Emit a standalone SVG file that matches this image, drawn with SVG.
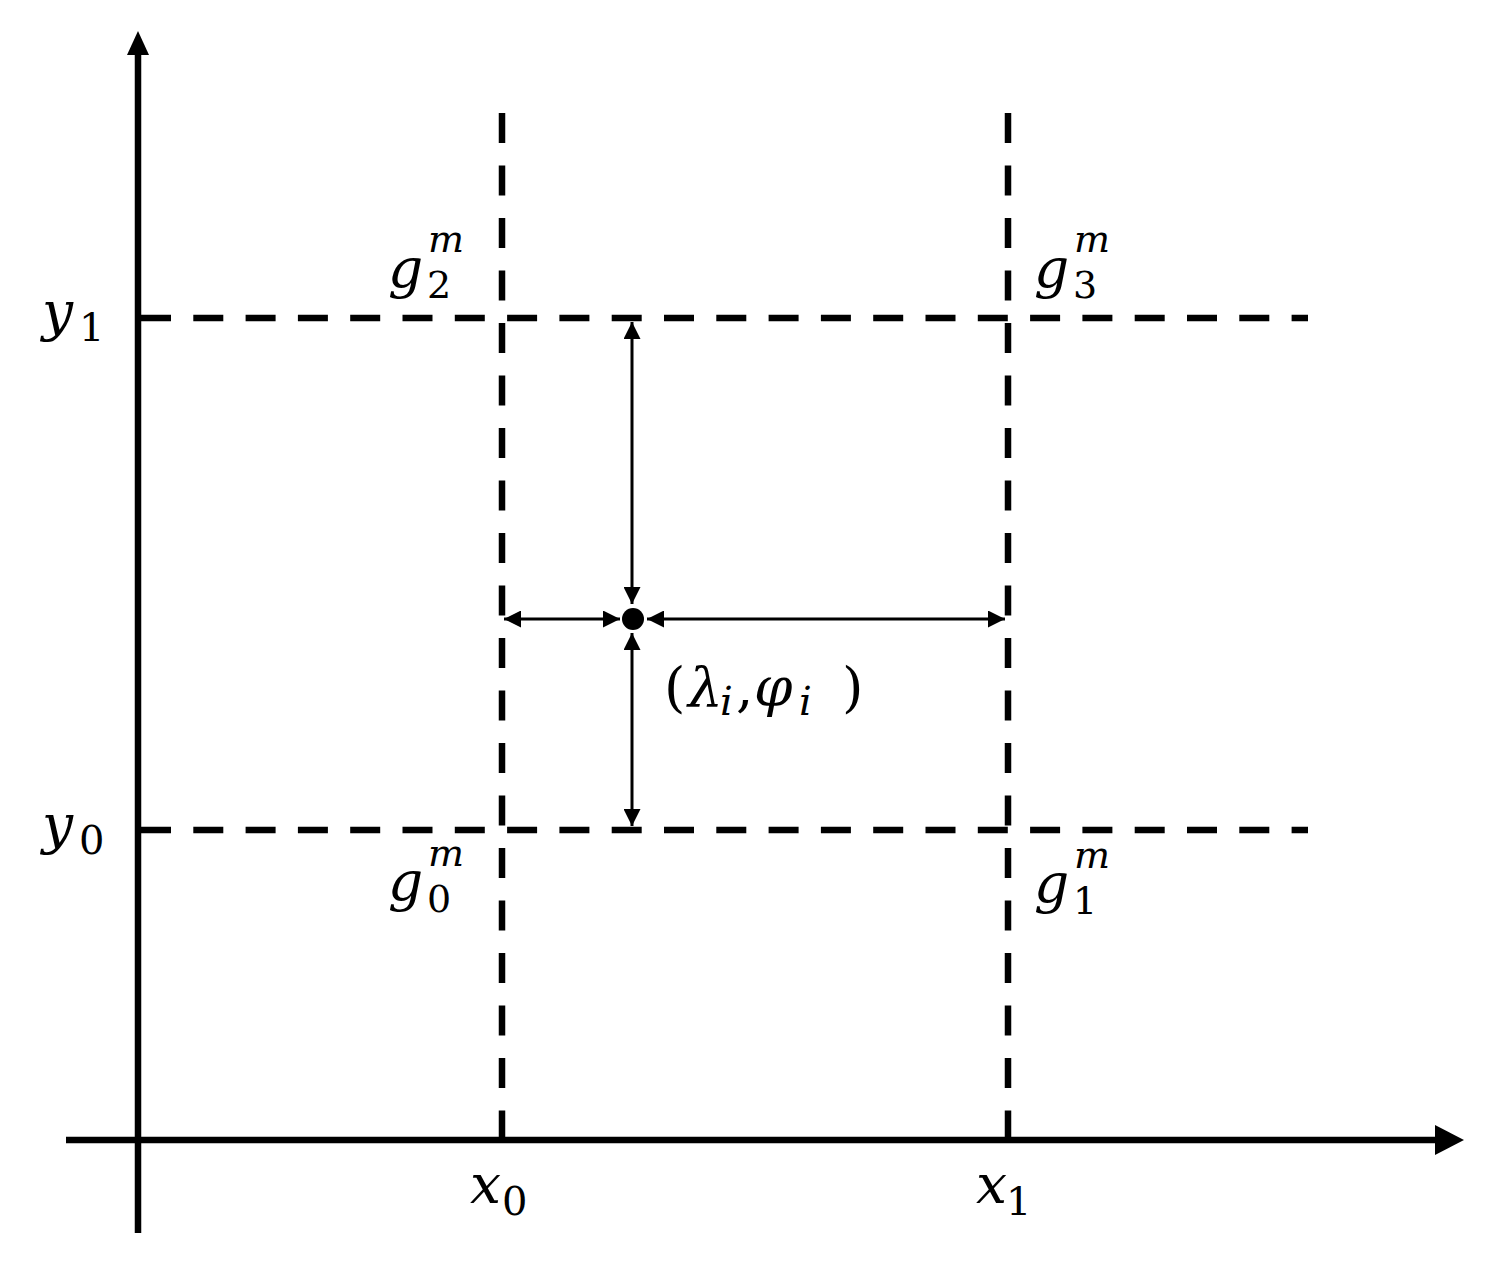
<svg xmlns="http://www.w3.org/2000/svg" width="1492" height="1265" viewBox="0 0 1492 1265">
  <style>
    .axis { stroke: #000; stroke-width: 6.5; fill: none; }
    .grid { stroke: #000; stroke-width: 6.5; fill: none; }
    .gh { stroke-dasharray: 30 22.3; }
    .gv { stroke-dasharray: 30 22.5; }
    .dim { stroke: #000; stroke-width: 3; fill: none; marker-start: url(#ah); marker-end: url(#ah); }
    .lbl { font-family: "DejaVu Serif", "Liberation Serif", serif; font-style: italic; font-size: 55px; fill: #000; }
    .s { font-size: 40px; }
    .gs { font-size: 38px; }
    .sp { font-size: 38px; }
    .up { font-style: normal; }
  </style>
  <defs>
    <marker id="ah" viewBox="0 0 17 17" markerWidth="17" markerHeight="17" refX="17" refY="8.5" orient="auto-start-reverse" markerUnits="userSpaceOnUse">
      <path d="M0,0 L17,8.5 L0,17 z" fill="#000"/>
    </marker>
  </defs>
  <rect width="1492" height="1265" fill="#fff"/>

  <g id="axes">
    <line class="axis" x1="138" y1="1233" x2="138" y2="52"/>
    <polygon points="138,31 127,55 149,55" fill="#000"/>
    <line class="axis" x1="66" y1="1140" x2="1437" y2="1140"/>
    <polygon points="1464,1140 1435,1125 1435,1155" fill="#000"/>
  </g>

  <g id="connectors">
    <line class="grid gv" x1="502" y1="113" x2="502" y2="1140"/>
    <line class="grid gv" x1="1008" y1="113" x2="1008" y2="1140"/>
    <line class="grid gh" x1="141" y1="318" x2="1308" y2="318"/>
    <line class="grid gh" x1="141" y1="830" x2="1308" y2="830"/>
    <line class="dim" x1="504" y1="619" x2="620" y2="619"/>
    <line class="dim" x1="647" y1="619" x2="1005" y2="619"/>
    <line class="dim" x1="632" y1="322" x2="632" y2="604"/>
    <line class="dim" x1="632" y1="633" x2="632" y2="826"/>
  </g>

  <g id="point">
    <circle cx="633" cy="619" r="11" fill="#000"/>
    <text class="lbl" y="706"><tspan class="up" x="664">(</tspan><tspan x="688">λ</tspan><tspan class="s" x="720" y="715">i</tspan><tspan class="up" x="736" y="706">,</tspan><tspan x="754">φ</tspan><tspan class="s" x="799" y="715">i</tspan><tspan class="up" x="842" y="706">)</tspan></text>
  </g>

  <g id="label-y1">
    <text class="lbl" y="330"><tspan x="42">y</tspan><tspan class="s up" x="79" y="341">1</tspan></text>
  </g>
  <g id="label-y0">
    <text class="lbl" y="843"><tspan x="42">y</tspan><tspan class="s up" x="79" y="854">0</tspan></text>
  </g>
  <g id="label-x0">
    <text class="lbl" y="1203"><tspan x="470">x</tspan><tspan class="s up" x="502" y="1215">0</tspan></text>
  </g>
  <g id="label-x1">
    <text class="lbl" y="1203"><tspan x="976">x</tspan><tspan class="s up" x="1006" y="1215">1</tspan></text>
  </g>
  <g id="label-g2">
    <text class="lbl" y="287"><tspan x="388">g</tspan><tspan class="gs up" x="427" y="298">2</tspan><tspan class="sp" x="428" y="252">m</tspan></text>
  </g>
  <g id="label-g3">
    <text class="lbl" y="287"><tspan x="1034">g</tspan><tspan class="gs up" x="1073" y="298">3</tspan><tspan class="sp" x="1074" y="252">m</tspan></text>
  </g>
  <g id="label-g0">
    <text class="lbl" y="900"><tspan x="388">g</tspan><tspan class="gs up" x="427" y="912">0</tspan><tspan class="sp" x="428" y="866">m</tspan></text>
  </g>
  <g id="label-g1">
    <text class="lbl" y="902"><tspan x="1034">g</tspan><tspan class="gs up" x="1073" y="914">1</tspan><tspan class="sp" x="1074" y="868">m</tspan></text>
  </g>
</svg>
